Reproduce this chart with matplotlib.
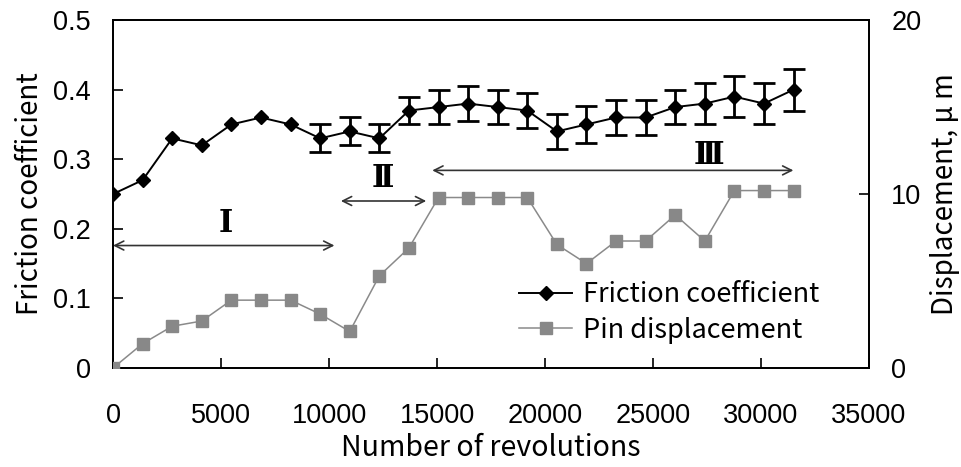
import matplotlib
matplotlib.use("Agg")
import matplotlib.pyplot as plt
from matplotlib.lines import Line2D

revolutions = [0, 1370, 2740, 4110, 5480, 6850, 8220, 9590, 10960, 12330, 13700, 15070,
               16440, 17810, 19180, 20550, 21920, 23290, 24660, 26030, 27400, 28770, 30140, 31510]
friction = [0.25, 0.27, 0.33, 0.32, 0.35, 0.36, 0.35, 0.33, 0.34, 0.33, 0.37, 0.375,
            0.38, 0.375, 0.37, 0.34, 0.35, 0.36, 0.36, 0.375, 0.38, 0.39, 0.38, 0.40]
friction_err = [None, None, None, None, None, None, None, 0.02, 0.02, 0.02, 0.02, 0.025,
                0.025, 0.025, 0.025, 0.025, 0.026, 0.025, 0.025, 0.025, 0.03, 0.03, 0.03, 0.03]
displacement = [0, 1.4, 2.4, 2.7, 3.9, 3.9, 3.9, 3.1, 2.1, 5.3, 6.9, 9.8,
                9.8, 9.8, 9.8, 7.1, 6.0, 7.3, 7.3, 8.8, 7.3, 10.2, 10.2, 10.2]

x_ticks = [0, 5000, 10000, 15000, 20000, 25000, 30000, 35000]
y1_ticks = [0, 0.1, 0.2, 0.3, 0.4, 0.5]
y1_labels = ["0", "0.1", "0.2", "0.3", "0.4", "0.5"]
y2_ticks = [0, 10, 20]

stages = ["Ⅰ", "Ⅱ", "Ⅲ"]
stage_start = [0, 10550, 14780]
stage_end = [10250, 14500, 31500]
stage_arrow_y = [0.176, 0.240, 0.284]
stage_label_x = [5200, 12500, 27600]
stage_label_y = [0.208, 0.273, 0.305]

JP = ["Noto Sans CJK JP", "DejaVu Sans"]
NUM = ["Liberation Sans", "DejaVu Sans"]

fig = plt.figure(figsize=(9.62, 4.67), dpi=100)
ax = fig.add_axes([0.1175, 0.212, 0.7858, 0.745])
ax2 = ax.twinx()

# friction coefficient
ax.plot(revolutions, friction, color="black", lw=1.4, marker="D", ms=7.0,
        mfc="black", mec="black", zorder=5)
ex = [x for x, e in zip(revolutions, friction_err) if e is not None]
ey = [y for y, e in zip(friction, friction_err) if e is not None]
ee = [e for e in friction_err if e is not None]
ax.errorbar(ex, ey, yerr=ee, fmt="none", ecolor="black", elinewidth=2.0,
            capsize=8, capthick=2.0, zorder=4)

# displacement
ax2.plot(revolutions, displacement, color="#8a8a8a", lw=1.1, marker="s", ms=8.2,
         mfc="#888888", mec="#888888", zorder=5)

ax.set_xlim(0, 35000)
ax.set_ylim(0, 0.5)
ax2.set_ylim(0, 20)
ax.set_xticks(x_ticks)
ax.set_xticklabels([str(t) for t in x_ticks], family=NUM, fontsize=19.5)
ax.set_yticks(y1_ticks)
ax.set_yticklabels(y1_labels, family=NUM, fontsize=19.5)
ax2.set_yticks(y2_ticks)
ax2.set_yticklabels([str(t) for t in y2_ticks], family=NUM, fontsize=19.5)

ax.tick_params(axis="x", direction="in", length=7, width=1.2, pad=25)
ax.tick_params(axis="y", direction="in", length=7, width=1.2, pad=16)
ax2.tick_params(axis="y", direction="in", length=7, width=1.2, pad=16)
for a in (ax, ax2):
    for s in a.spines.values():
        s.set_linewidth(1.3)

ax.set_xlabel("Number of revolutions", family=JP, fontsize=20.5, labelpad=3)
ax.set_ylabel("Friction coefficient", family=JP, fontsize=20, labelpad=6)
ax2.set_ylabel("Displacement, \u03bc m", family=JP, fontsize=20, labelpad=6)

# stage arrows
for lab, xs, xe, ya, lx, ly in zip(stages, stage_start, stage_end, stage_arrow_y,
                                   stage_label_x, stage_label_y):
    ax.annotate("", xy=(xe, ya), xytext=(xs, ya),
                arrowprops=dict(arrowstyle="<->", lw=1.2, color="#333333",
                                mutation_scale=16, shrinkA=0, shrinkB=0))
    ax.text(lx, ly, lab, family=["DejaVu Serif", "Noto Sans CJK JP"], fontweight="bold",
            fontsize=22, ha="center", va="center")

handles = [Line2D([], [], color="black", lw=1.4, marker="D", ms=7.0),
           Line2D([], [], color="#8a8a8a", lw=1.1, marker="s", ms=8.2, mfc="#888888", mec="#888888")]
leg = ax2.legend(handles, ["Friction coefficient", "Pin displacement"], loc="lower left",
                 bbox_to_anchor=(0.505, 0.0), frameon=False, handlelength=1.95,
                 handletextpad=0.4, labelspacing=0.3, prop={"family": JP, "size": 19.5})

fig.savefig("out.png", dpi=100)
